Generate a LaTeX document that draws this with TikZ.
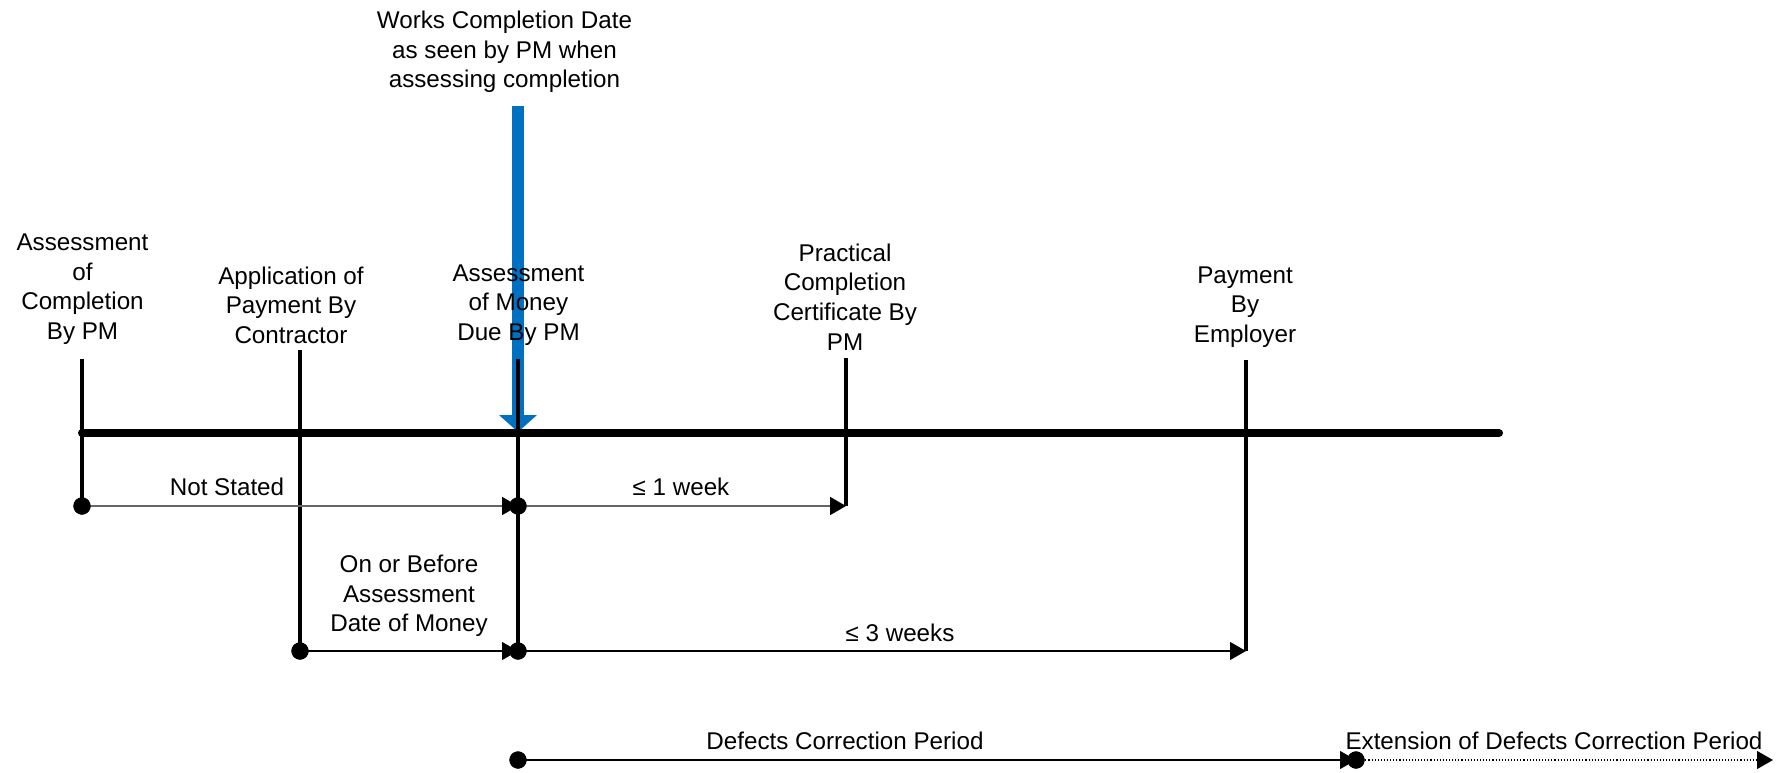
\documentclass[tikz,border=0pt]{standalone}
\usepackage{fontspec}
\setmainfont{Liberation Sans}
\usetikzlibrary{arrows.meta}
\definecolor{markblue}{RGB}{0,112,192}
\begin{document}
\begin{tikzpicture}[x=0.5pt,y=-0.5pt,
  lbl/.style={font=\fontsize{12.1}{14.8}\selectfont, align=center, inner sep=0pt},
  timeline/.style={line width=4pt, line cap=round},
  tickline/.style={line width=1.75pt},
  span/.style={line width=0.55pt, -{Triangle[length=8pt,width=9pt]}},
  spanlight/.style={draw=black!60, line width=0.9pt, -{Triangle[length=8pt,width=9pt,color=black]}},
  spanext/.style={span, densely dotted},
  dotmark/.style={circle, fill=black, inner sep=0pt, minimum size=8.6pt},
  marker/.style={draw=markblue, line width=6.25pt, -{Triangle[length=8.5pt,width=18.5pt]}}]
\useasboundingbox (0,0) rectangle (1782,772);

% timeline ends and event tops
\coordinate (tlL) at (82,433);
\coordinate (tlR) at (1499,433);
\coordinate (topA) at (82,359);
\coordinate (topB) at (300,350);
\coordinate (topC) at (518,359);
\coordinate (topD) at (846,358);
\coordinate (topE) at (1246,360);
\coordinate (endD) at (846,506);
\coordinate (endE) at (1246,651);
\coordinate (endX) at (1773,760);

% completion date marker
\coordinate (wtop) at (518,106);
\coordinate (wtip) at (518,432);
\draw[marker] (wtop) -- (wtip);

% dots where periods start
\node[dotmark] (dA)  at (82,506) {};
\node[dotmark] (dC1) at (518,506) {};
\node[dotmark] (dB)  at (300,651) {};
\node[dotmark] (dC2) at (518,651) {};
\node[dotmark] (dC3) at (518,760) {};
\node[dotmark] (dX)  at (1356,760) {};

% main timeline and event ticks
\draw[timeline] (tlL) -- (tlR);
\draw[tickline] (topA) -- (dA.center);
\draw[tickline] (topB) -- (dB.center);
\draw[tickline] (topC) -- (dC2.center);
\draw[tickline] (topD) -- (endD);
\draw[tickline] (topE) -- (endE);

% periods
\draw[spanlight] (dA.center) -- (dC1.center);
\draw[spanlight] (dC1.center) -- (endD);
\draw[span] (dB.center) -- (dC2.center);
\draw[span] (dC2.center) -- (endE);
\draw[span] (dC3.center) -- (dX.center);
\draw[spanext] (dX.center) -- (endX);

% redraw dots over arrow tips
\foreach \d in {dA,dC1,dB,dC2,dC3,dX} \fill (\d.center) circle (4.3pt);

% labels
\node[lbl] (works) at (504.5,52) {Works Completion Date\\as seen by PM when\\assessing completion};
\node[lbl] (labA) at (82.5,289) {Assessment\\of\\Completion\\By PM};
\node[lbl] (labB) at (291,305) {Application of\\Payment By\\Contractor};
\node[lbl] (labC) at (518.5,305) {Assessment\\of Money\\Due By PM};
\node[lbl] (labD) at (845,297) {Practical\\Completion\\Certificate By\\PM};
\node[lbl] (labE) at (1245,307) {Payment\\By\\Employer};
\node[lbl] (notstated) at (227,487) {Not Stated};
\node[lbl] (week1) at (681,487) {≤ 1 week};
\node[lbl] (onbefore) at (409,596) {On or Before\\Assessment\\Date of Money};
\node[lbl] (week3) at (900,633) {≤ 3 weeks};
\node[lbl] (dcp) at (845,741) {Defects Correction Period};
\node[lbl] (ext) at (1554,741) {Extension of Defects Correction Period};
\end{tikzpicture}
\end{document}
